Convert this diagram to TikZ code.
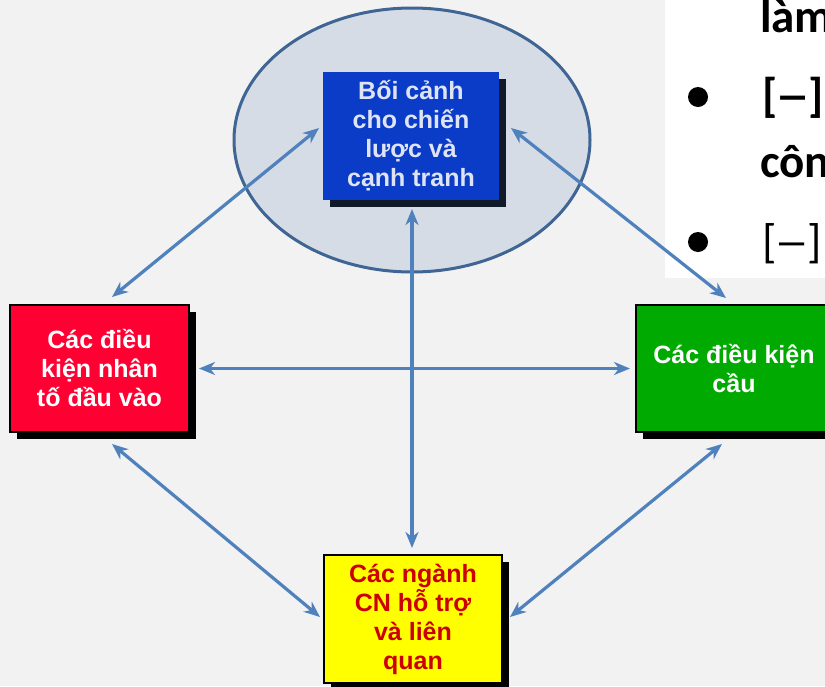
\documentclass[tikz,border=0pt]{standalone}
\usepackage{fontspec}
\setmainfont{Liberation Sans}
\newfontfamily\slidefont{Carlito}
\usetikzlibrary{arrows.meta,shadows}

\definecolor{canvas}{HTML}{F2F2F2}
\definecolor{halofill}{HTML}{D6DCE5}
\definecolor{halodraw}{HTML}{3E6593}
\definecolor{ctxblue}{HTML}{0B3CC8}
\definecolor{ctxtext}{HTML}{DFE4F5}
\definecolor{ctxshadow}{HTML}{111A28}
\definecolor{facred}{HTML}{FF0033}
\definecolor{demgreen}{HTML}{00AA00}
\definecolor{relyellow}{HTML}{FFFF00}
\definecolor{reltext}{HTML}{CC0000}
\definecolor{linkblue}{HTML}{4F81BD}

% bracketed dash placeholder, with a wider dash
\newcommand{\bdash}{[\kern-2pt\scalebox{1.5}[1]{–}\kern-2pt]}

\tikzset{
  factorbox/.style={draw=black, line width=2pt, align=center, inner sep=0pt,
    font=\bfseries\fontsize{25}{29}\selectfont,
    drop shadow={shadow xshift=7pt, shadow yshift=-7pt, opacity=1, fill=black}},
  link/.style={draw=linkblue, line width=3.2pt,
    {Stealth[length=16pt,width=13pt,inset=5pt]}-{Stealth[length=16pt,width=13pt,inset=5pt]}},
  slidetext/.style={anchor=base west, inner sep=0pt,
    font=\slidefont\fontsize{47}{54}\selectfont},
  slidebold/.style={slidetext, font=\slidefont\bfseries\fontsize{47}{54}\selectfont}
}

\begin{document}
\begin{tikzpicture}[x=1pt,y=-1pt]
\useasboundingbox (0,0) rectangle (825,686);
\clip (0,0) rectangle (825,686);
\fill[canvas] (0,0) rectangle (825,686);

% text panel on the right
\fill[white] (665,0) rectangle (825,278);
\fill[black] (698,97) circle (10pt);
\fill[black] (698,242) circle (10pt);
\node[slidebold] (t1) at (760,32) {làm};
\node[slidebold] (t2) at (762,111) {\bdash};
\node[slidebold] (t3) at (760,177) {côn};
\node[slidetext] (t4) at (762,257) {\bdash};

% ellipse behind the central box
\draw[halodraw, fill=halofill, line width=3pt] (412,140) ellipse [x radius=178, y radius=132];

% the four determinants
\node[factorbox, draw=none, fill=ctxblue, text=ctxtext,
      minimum width=176pt, minimum height=128pt,
      drop shadow={shadow xshift=7pt, shadow yshift=-7pt, opacity=1, fill=ctxshadow}]
      (ctx) at (411,136) {Bối cảnh\\cho chiến\\lược và\\cạnh tranh};
\node[factorbox, fill=facred, text=white, minimum width=179pt, minimum height=127pt]
      (fac) at (99.5,368.5) {Các điều\\kiện nhân\\tố đầu vào};
\node[factorbox, fill=demgreen, text=white, minimum width=196pt, minimum height=127pt]
      (dem) at (734,368.5) {Các điều kiện\\cầu};
\node[factorbox, fill=relyellow, text=reltext, minimum width=178pt, minimum height=128pt]
      (rel) at (413,619) {Các ngành\\CN hỗ trợ\\và liên\\quan};

% two-way links
\draw[link] ([shift={(12.5,-7)}]fac.north) -- ([shift={(-3,-8)}]ctx.west);
\draw[link] ([shift={(11,-8)}]ctx.east) -- ([shift={(-8,-6)}]dem.north);
\draw[link] ([shift={(9,0)}]fac.east) -- ([shift={(-5,0)}]dem.west);
\draw[link] ([shift={(1,8)}]ctx.south) -- ([shift={(-1,-6)}]rel.north);
\draw[link] ([shift={(12.5,11)}]fac.south) -- ([shift={(-3,-2)}]rel.west);
\draw[link] ([shift={(-12,11)}]dem.south) -- ([shift={(7,-2)}]rel.east);
\end{tikzpicture}
\end{document}
